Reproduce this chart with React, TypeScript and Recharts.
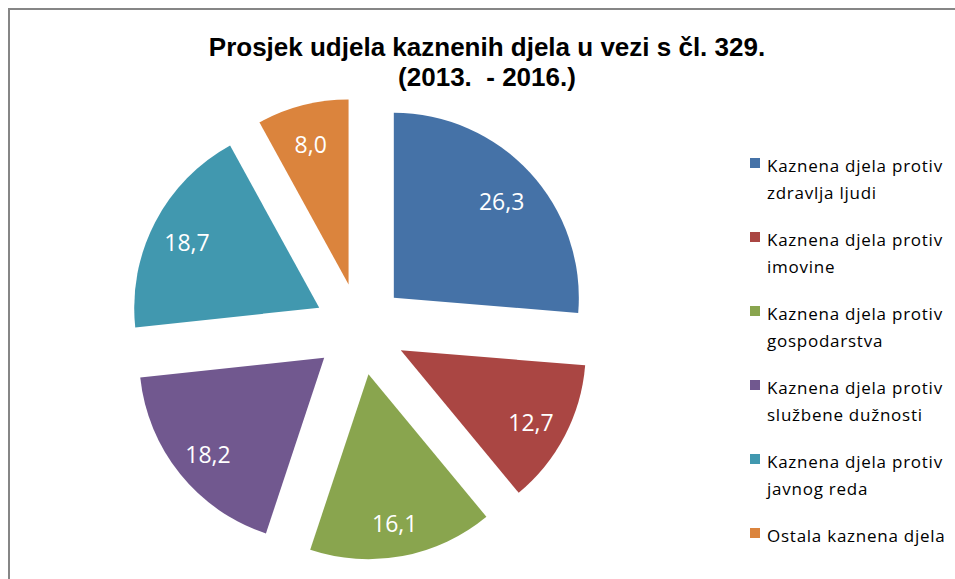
import { PieChart, Pie, Cell, Legend } from 'recharts'

const categories = [
  'Kaznena djela protiv\nzdravlja ljudi',
  'Kaznena djela protiv\nimovine',
  'Kaznena djela protiv\ngospodarstva',
  'Kaznena djela protiv\nslužbene dužnosti',
  'Kaznena djela protiv\njavnog reda',
  'Ostala kaznena djela',
]
const shares = [26.3, 12.7, 16.1, 18.2, 18.7, 8.0]
const colors = ['#4572A7', '#AA4643', '#89A54E', '#71588F', '#4198AF', '#DB843D']
const titleLines = ['Prosjek udjela kaznenih djela u vezi s čl. 329.', '(2013.  - 2016.)']

const data = categories.map((name, i) => ({ name, value: shares[i] }))

const RAD = Math.PI / 180
const CX = 350
const CY = 319
const OUTER = 185
const EXPLODE = 46
const LABEL_R = 148

const total = shares.reduce((a, b) => a + b, 0)

// offset of each exploded slice, along its own bisector
function sliceCenter(i: number) {
  const before = shares.slice(0, i).reduce((a, b) => a + b, 0)
  const mid = 90 - (360 * (before + shares[i] / 2)) / total
  return {
    x: CX + EXPLODE * Math.cos(mid * RAD),
    y: CY - EXPLODE * Math.sin(mid * RAD),
  }
}

function makeLabel(slice: number) {
  return (props: any) => {
    const { cx, cy, midAngle, index, value } = props
    if (index !== slice) return null
    const x = cx + LABEL_R * Math.cos(-midAngle * RAD)
    const y = cy + LABEL_R * Math.sin(-midAngle * RAD)
    return (
      <text
        x={x - 1}
        y={y + 3}
        fill="#ffffff"
        textAnchor="middle"
        dominantBaseline="central"
        style={{ fontFamily: '"Open Sans", sans-serif', fontSize: 23 }}
      >
        {Number(value).toFixed(1).replace('.', ',')}
      </text>
    )
  }
}

function LegendList() {
  return (
    <div style={{ fontFamily: '"Open Sans", sans-serif', fontSize: 17, letterSpacing: 0.75, color: '#000' }}>
      {categories.map((c, i) => (
        <div key={i} style={{ position: 'relative', paddingLeft: 17, height: 74, lineHeight: '27px', whiteSpace: 'pre' }}>
          <span
            style={{
              position: 'absolute',
              left: 0,
              top: 6.5,
              width: 10,
              height: 10,
              background: colors[i],
            }}
          />
          {c}
        </div>
      ))}
    </div>
  )
}

export default function App() {
  return (
    <div
      style={{
        position: 'fixed',
        left: 8,
        top: 8,
        right: 0,
        bottom: 0,
        overflow: 'hidden',
        borderTop: '2px solid #868686',
        borderLeft: '2px solid #868686',
        background: '#fff',
      }}
    >
      <div
        style={{
          position: 'absolute',
          left: 0,
          top: 22,
          width: 954,
          textAlign: 'center',
          fontFamily: '"Liberation Sans", Arial, sans-serif',
          fontWeight: 'bold',
          fontSize: 26,
          lineHeight: '30px',
          color: '#000',
          whiteSpace: 'pre',
        }}
      >
        {titleLines.map((t) => (
          <div key={t}>{t}</div>
        ))}
      </div>
      <div style={{ position: 'absolute', left: 0, top: 0 }}>
        <PieChart width={720} height={569} margin={{ top: 0, right: 0, bottom: 0, left: 0 }}>
          {shares.map((_, s) => {
            const c = sliceCenter(s)
            return (
              <Pie
                key={s}
                data={data}
                dataKey="value"
                nameKey="name"
                cx={c.x}
                cy={c.y}
                outerRadius={OUTER}
                startAngle={90}
                endAngle={-270}
                stroke="none"
                isAnimationActive={false}
                labelLine={false}
                label={makeLabel(s)}
              >
                {data.map((_, i) => (
                  <Cell key={i} fill={i === s ? colors[i] : 'none'} />
                ))}
              </Pie>
            )
          })}
          <Legend
            layout="vertical"
            content={() => <LegendList />}
            wrapperStyle={{ position: 'absolute', left: 740, top: 141.5, width: 200 }}
          />
        </PieChart>
      </div>
    </div>
  )
}
